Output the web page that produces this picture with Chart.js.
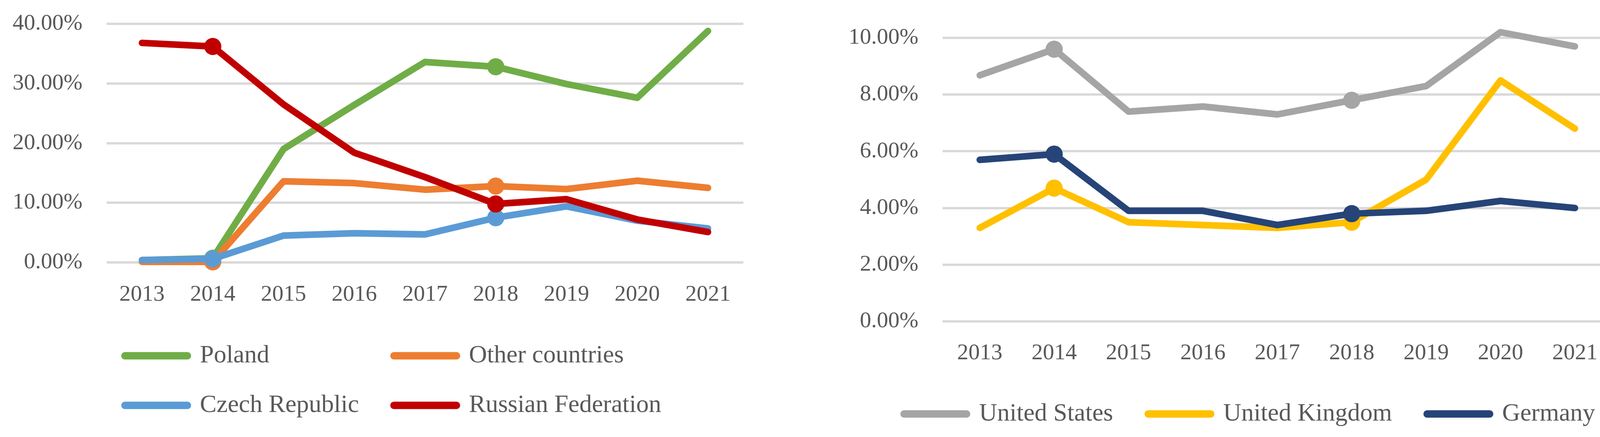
<!DOCTYPE html>
<html>
<head>
<meta charset="utf-8">
<script src="https://cdn.jsdelivr.net/npm/chart.js@4.4.1/dist/chart.umd.min.js"></script>
<style>
    html, body { margin: 0; padding: 0; background: #ffffff; }
    #wrap { position: relative; width: 4166px; height: 1119px; overflow: hidden; }
    #leftChart { position: absolute; left: 0; top: 0; }
    #rightChart { position: absolute; left: 2100px; top: 0; }
</style>
</head>
<body>
<div id="wrap">
    <canvas id="leftChart" width="2050" height="1119"></canvas>
    <canvas id="rightChart" width="2140" height="1119"></canvas>
</div>
<script>
// Datos (en %)
const years = ['2013', '2014', '2015', '2016', '2017', '2018', '2019', '2020', '2021'];

const poland = [0.4, 0.7, 19.0, 26.4, 33.6, 32.8, 29.9, 27.6, 38.8];
const otherCountries = [0.1, 0.1, 13.6, 13.3, 12.2, 12.8, 12.3, 13.7, 12.5];
const czechRepublic = [0.4, 0.6, 4.5, 4.9, 4.7, 7.5, 9.4, 7.0, 5.7];
const russianFederation = [36.8, 36.2, 26.5, 18.4, 14.3, 9.8, 10.6, 7.2, 5.1];

const unitedStates = [8.68, 9.6, 7.4, 7.58, 7.3, 7.8, 8.3, 10.2, 9.7];
const unitedKingdom = [3.3, 4.7, 3.5, 3.4, 3.3, 3.5, 5.0, 8.5, 6.8];
const germany = [5.7, 5.9, 3.9, 3.9, 3.4, 3.8, 3.9, 4.25, 4.0];

const leftTickLabels = ['0.00%', '10.00%', '20.00%', '30.00%', '40.00%'];
const rightTickLabels = ['0.00%', '2.00%', '4.00%', '6.00%', '8.00%', '10.00%'];

// marcadores solo en 2014 y 2018
const markerYears = ['2014', '2018'];

const FONT = "'Liberation Serif', 'DejaVu Serif', serif";
const LEGEND_SIZE = 64;
const TEXT_COLOR = '#595959';
const GRID_COLOR = '#D9D9D9';

function markerRadius() {
    return years.map(y => markerYears.includes(y) ? 22 : 0);
}

function lineDataset(label, data, color, order) {
    return {
        label: label,
        data: data,
        borderColor: color,
        backgroundColor: color,
        borderWidth: 17,
        borderCapStyle: 'round',
        borderJoinStyle: 'round',
        tension: 0,
        pointRadius: markerRadius(),
        pointHoverRadius: markerRadius(),
        pointBorderWidth: 0,
        pointBackgroundColor: color,
        clip: false,
        order: order
    };
}

// rellena el texto con espacios para que las columnas de la leyenda queden alineadas
function padText(ctx, text, width) {
    let t = text;
    while (ctx.measureText(t + ' ').width <= width) t += ' ';
    while (ctx.measureText(t + '\u200A').width <= width) t += '\u200A';
    return t;
}

function makeLegendLabels(columnWidths) {
    return function(chart) {
        const items = Chart.defaults.plugins.legend.labels.generateLabels(chart);
        const ctx = chart.ctx;
        ctx.save();
        ctx.font = LEGEND_SIZE + 'px ' + FONT;
        items.forEach(item => {
            item.lineWidth = 19;
            item.lineCap = 'round';
            item.pointStyle = 'line';
            item.fontColor = TEXT_COLOR;
            if (columnWidths) {
                const w = columnWidths[item.datasetIndex % columnWidths.length];
                item.text = padText(ctx, item.text, w);
            }
        });
        ctx.restore();
        return items;
    };
}

function buildOptions(cfg) {
    return {
        responsive: false,
        animation: false,
        events: [],
        layout: { padding: cfg.padding },
        plugins: {
            title: { display: false },
            tooltip: { enabled: false },
            legend: {
                position: 'bottom',
                align: 'center',
                labels: {
                    usePointStyle: true,
                    pointStyleWidth: 160,
                    boxHeight: 19,
                    padding: cfg.legendPadding,
                    color: TEXT_COLOR,
                    font: { family: FONT, size: LEGEND_SIZE },
                    generateLabels: makeLegendLabels(cfg.columnWidths),
                    sort: (a, b) => a.datasetIndex - b.datasetIndex
                }
            }
        },
        scales: {
            x: {
                type: 'category',
                offset: true,
                grid: { display: false, drawTicks: false },
                border: { display: false },
                ticks: {
                    color: TEXT_COLOR,
                    font: { family: FONT, size: 58 },
                    padding: cfg.xPadding,
                    maxRotation: 0,
                    autoSkip: false
                },
                afterFit: function(scale) { scale.height = cfg.xHeight; }
            },
            y: {
                min: 0,
                max: cfg.max,
                grid: {
                    color: GRID_COLOR,
                    lineWidth: 6,
                    drawTicks: true,
                    tickLength: 52,
                    tickColor: 'rgba(0,0,0,0)'
                },
                border: { display: false },
                ticks: {
                    stepSize: cfg.step,
                    color: TEXT_COLOR,
                    font: { family: FONT, size: 58 },
                    padding: 10,
                    callback: function(value, index) {
                        return cfg.tickLabels[index];
                    }
                },
                afterFit: function(scale) { scale.width = cfg.yWidth; }
            },
            // eje vacío a la derecha, solo para centrar la leyenda como en el original
            yRight: {
                position: 'right',
                grid: { display: false, drawTicks: false },
                border: { display: false },
                ticks: { display: false },
                afterFit: function(scale) { scale.width = cfg.rightGap; }
            }
        }
    };
}

// Gráfico izquierdo
new Chart(document.getElementById('leftChart'), {
    type: 'line',
    data: {
        labels: years,
        datasets: [
            lineDataset('Poland', poland, '#70AD47', 4),
            lineDataset('Other countries', otherCountries, '#ED7D31', 3),
            lineDataset('Czech Republic', czechRepublic, '#5B9BD5', 2),
            lineDataset('Russian Federation', russianFederation, '#C00000', 1)
        ]
    },
    options: buildOptions({
        padding: { left: 25, right: 57, top: 61, bottom: 39 },
        legendPadding: 63,
        columnWidths: [438, 500],
        xPadding: 48,
        xHeight: 144,
        yWidth: 248,
        rightGap: 90,
        max: 40,
        step: 10,
        tickLabels: leftTickLabels
    })
});

// Gráfico derecho
new Chart(document.getElementById('rightChart'), {
    type: 'line',
    data: {
        labels: years,
        datasets: [
            lineDataset('United States', unitedStates, '#A5A5A5', 3),
            lineDataset('United Kingdom', unitedKingdom, '#FFC000', 2),
            lineDataset('Germany', germany, '#264478', 1)
        ]
    },
    options: buildOptions({
        padding: { left: 70, right: 12, top: 97, bottom: 17 },
        legendPadding: 90,
        columnWidths: null,
        xPadding: 47,
        xHeight: 115,
        yWidth: 243,
        rightGap: 101,
        max: 10,
        step: 2,
        tickLabels: rightTickLabels
    })
});
</script>
</body>
</html>
